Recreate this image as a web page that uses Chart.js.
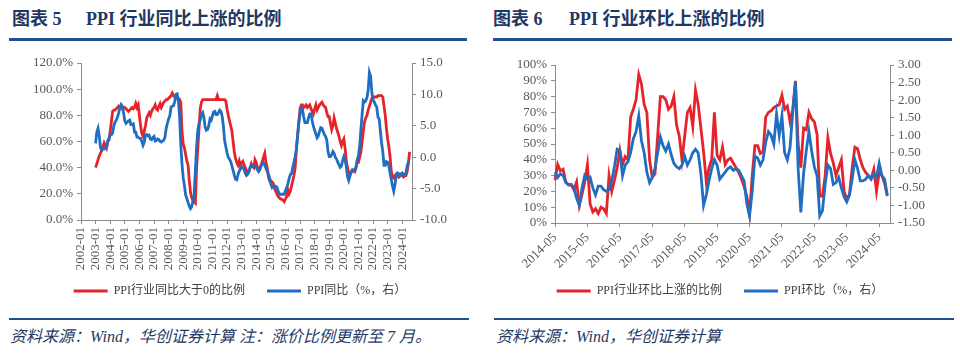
<!DOCTYPE html>
<html><head><meta charset="utf-8">
<script src="https://cdn.jsdelivr.net/npm/chart.js@4.4.1/dist/chart.umd.min.js"></script>
<style>
html,body{margin:0;padding:0;background:#fff;width:960px;height:355px;overflow:hidden;position:relative;}
.title{position:absolute;top:8px;font-size:18px;font-weight:bold;color:#1F3864;font-family:'Liberation Serif','Noto Sans CJK SC',serif;white-space:nowrap;line-height:22px;}
.rule{position:absolute;top:38px;height:3px;background:#24508F;}
.rule2{position:absolute;top:318px;height:2px;background:#24508F;}
.foot{position:absolute;top:327px;font-size:16px;font-style:italic;color:#1F3864;font-family:'Liberation Serif','Noto Sans CJK SC',serif;white-space:nowrap;line-height:20px;}
canvas{position:absolute;top:45px;}
</style></head>
<body>
<div class="title" style="left:12px">图表 5</div>
<div class="title" style="left:86px">PPI 行业同比上涨的比例</div>
<div class="title" style="left:493px">图表 6</div>
<div class="title" style="left:569px">PPI 行业环比上涨的比例</div>
<div class="rule" style="left:9px;width:458px"></div>
<div class="rule" style="left:493px;width:459px"></div>
<canvas id="c1" width="480" height="265" style="left:0px"></canvas>
<canvas id="c2" width="480" height="265" style="left:480px"></canvas>
<div class="rule2" style="left:9px;width:460px"></div>
<div class="rule2" style="left:494px;width:460px"></div>
<div class="foot" style="left:10px">资料来源：Wind，华创证券计算 注：涨价比例更新至 7 月。</div>
<div class="foot" style="left:496px">资料来源：Wind，华创证券计算</div>
<script>
// ---------- Chart 5 data (monthly, 2003-01 .. 2024-07) ----------
const yoyShare = [
  40,43,46,49,51,53,56,59,57,55,60,61,
  68,75,83,84,84,85,86,87,86,87,85,86,
  86,85,84,83,84,85,86,85,86,89,86,88,
  80,72,66,64,68,72,78,80,82,80,83,85,
  86,88,85,84,87,89,86,88,90,91,92,92,
  93,94,95,97,95,94,94,93,93,92,90,68,
  58,55,50,45,42,30,21,17,15,14,13,40,
  55,70,85,90,92,92,92,92,92,92,92,92,
  92,92,92,92,95,92,92,92,92,92,92,91,
  85,80,76,72,68,60,52,47,44,42,45,41,
  44,45,42,40,38,36,37,40,43,41,40,46,
  44,40,38,40,42,45,48,51,44,40,33,30,
  30,29,28,24,22,20,18,17,16,16,15,14,
  16,18,23,20,22,26,30,34,40,55,65,75,
  85,88,88,86,87,88,86,87,88,85,83,81,
  85,88,84,86,88,89,90,88,87,86,82,79,
  79,74,69,72,78,74,70,67,64,60,57,60,
  62,55,45,40,36,35,37,37,38,37,40,44,
  44,48,52,60,68,75,78,80,84,87,90,93,
  93,94,94,94,95,95,95,95,94,87,80,70,
  62,56,48,37,33,32,34,35,34,33,34,35,
  34,33,34,34,37,43,52
];
const ppiYoY = [
  2.2,4.0,4.6,3.4,1.6,1.1,1.4,1.3,1.4,1.7,2.6,3.0,
  3.5,3.6,3.9,5.0,5.6,5.9,6.4,7.1,7.9,8.4,8.1,7.1,
  5.8,5.4,5.6,5.8,5.9,5.2,5.2,5.3,4.0,4.0,3.2,3.2,
  3.0,3.0,2.5,1.9,2.4,3.5,3.6,3.4,3.5,2.9,2.8,3.1,
  3.3,2.6,2.7,2.9,2.8,2.5,2.4,2.6,2.7,3.2,4.6,5.4,
  6.1,6.6,8.0,8.1,8.2,8.8,10.0,10.1,9.1,6.6,2.0,-1.1,
  -3.3,-4.5,-6.0,-6.6,-7.2,-7.8,-8.2,-7.9,-7.0,-5.8,-2.1,1.7,
  4.3,5.4,5.9,6.8,7.1,6.4,4.8,4.3,4.4,5.0,6.1,5.9,
  6.6,7.2,7.3,6.8,6.8,7.1,7.5,7.3,6.5,5.0,2.7,1.7,
  0.7,0.0,-0.3,-0.7,-1.4,-2.1,-2.9,-3.5,-3.6,-2.8,-2.2,-1.9,
  -1.6,-1.6,-1.9,-2.6,-2.9,-2.7,-2.3,-1.6,-1.3,-1.5,-1.4,-1.4,
  -1.6,-2.0,-2.3,-2.0,-1.4,-1.1,-0.9,-1.2,-1.8,-2.2,-2.7,-3.3,
  -4.3,-4.8,-4.6,-4.6,-4.6,-4.8,-5.4,-5.9,-5.9,-5.9,-5.9,-5.9,
  -5.3,-4.9,-4.3,-3.4,-2.8,-2.6,-1.7,-0.8,0.1,1.2,3.3,5.5,
  6.9,7.8,7.6,6.4,5.5,5.5,5.5,6.3,6.9,6.9,5.8,4.9,
  4.3,3.7,3.1,3.4,4.1,4.7,4.6,4.1,3.6,3.3,2.7,0.9,
  0.1,0.1,0.4,0.9,0.6,0.0,-0.3,-0.8,-1.2,-1.6,-1.4,-0.5,
  0.1,-0.4,-1.5,-3.1,-3.7,-3.0,-2.4,-2.0,-2.1,-2.1,-1.5,-0.4,
  0.3,1.7,4.4,6.8,9.0,8.8,9.0,9.5,10.7,13.5,12.9,10.3,
  9.1,8.8,8.3,8.0,6.4,6.1,4.2,2.3,0.9,-1.3,-1.3,-0.7,
  -0.8,-1.4,-2.5,-3.6,-4.6,-5.4,-4.4,-3.0,-2.5,-2.6,-3.0,-2.7,
  -2.5,-2.7,-2.8,-2.5,-1.4,-0.8,-0.8
];
// ---------- Chart 6 data (monthly, 2014-05 .. 2024-08) ----------
const momShare = [
  27,37,33,34,26,24,24,21,26,11,
  18,26,37,12,7,9,6,10,9,6,
  30,20,27,35,46,37,42,40,67,72,
  78,94,88,75,70,40,29,31,55,80,
  80,78,72,74,80,62,55,40,55,70,
  73,61,84,75,60,45,26,35,40,70,
  43,40,48,37,40,41,38,35,32,28,
  23,17,6,30,49,49,44,45,67,70,
  71,73,74,75,81,72,74,64,72,90,
  50,35,60,59,70,66,64,56,17,17,
  30,54,44,38,30,35,40,20,15,18,
  35,48,47,40,35,32,30,28,34,20,
  32,30,25,17
];
const ppiMoM = [
  -0.05,-0.2,-0.1,-0.15,-0.35,-0.4,-0.4,-0.5,-0.8,-1.0,
  -0.5,-0.15,-0.25,-0.2,-0.5,-0.7,-0.45,-0.45,-0.55,-0.6,
  -0.55,-0.3,0.1,0.6,0.55,-0.15,0.15,0.25,0.5,0.9,
  1.1,1.55,0.85,0.5,-0.05,-0.35,-0.2,0.05,0.5,0.95,
  0.7,0.55,0.75,0.45,0.2,0.1,0.05,0.15,0.4,0.15,
  0.3,0.5,0.6,0.5,-0.1,-1.0,-0.7,-0.3,0.05,0.3,
  0.15,-0.25,-0.15,-0.05,0.05,0.1,0.0,0.05,0.0,-0.15,
  -0.3,-0.95,-1.3,-0.6,0.4,0.35,0.15,0.3,0.8,1.1,
  1.0,0.75,1.6,1.0,1.55,0.5,0.3,0.65,1.65,2.5,
  0.05,-1.2,-0.1,0.55,1.1,0.55,0.1,-0.15,-1.3,-1.15,
  -0.4,0.15,0.05,-0.4,-0.35,-0.2,-0.5,-0.75,-0.9,-0.7,
  -0.25,0.3,0.05,-0.3,-0.3,-0.25,-0.15,-0.25,-0.1,-0.2,
  0.2,-0.15,-0.25,-0.7
];
const yoyLegend = ['PPI行业同比大于0的比例', 'PPI同比（%，右）'];
const momLegend = ['PPI行业环比上涨的比例', 'PPI环比（%，右）'];

function makeCats(y0, m0, y1, m1) {
  const out = []; let y = y0, m = m0;
  while (y < y1 || (y === y1 && m <= m1)) {
    out.push(y + '-' + String(m).padStart(2, '0'));
    m++; if (m > 12) { m = 1; y++; }
  }
  return out;
}
const yoyCats = makeCats(2002, 1, 2024, 9);
const momCats = makeCats(2014, 5, 2024, 9);
const yoyLead = yoyCats.indexOf('2003-01');

const RED = '#E5232B', BLUE = '#1F6EC1', AX = '#8c8c8c';
const FONT = "'Liberation Serif','Noto Sans CJK SC',serif";
Chart.defaults.font.family = FONT;
Chart.defaults.color = '#595959';

function lineDs(label, data, axis, color, order) {
  return { label, data, yAxisID: axis, borderColor: color, backgroundColor: color,
    borderWidth: 2.8, pointRadius: 0, tension: 0, order, spanGaps: false };
}
function legendOpts() {
  return { position: 'bottom', labels: { usePointStyle: true, pointStyle: 'line', pointStyleWidth: 34,
    padding: 10, color: '#404040', font: { size: 12 },
    sort: (a, b) => a.datasetIndex - b.datasetIndex,
    generateLabels: chart => {
      const items = Chart.defaults.plugins.legend.labels.generateLabels(chart);
      items.forEach(it => { if (it.datasetIndex === 0) it.text = it.text + '\u3000'; });
      return items;
    } } };
}
function xAxis(suffix, rot, h) {
  return {
    type: 'category', offset: false,
    grid: { drawOnChartArea: false, tickLength: 4,
      color: c => (c.tick && c.tick.label != null) ? AX : 'rgba(0,0,0,0)' },
    border: { display: true, color: AX },
    ticks: { autoSkip: false, minRotation: rot, maxRotation: rot, padding: 3, font: { size: 13 },
      callback: function (v) { const l = this.getLabelForValue(v); return l.endsWith(suffix) ? l : null; } },
    afterFit: s => { s.height = h; }
  };
}
function yAxis(pos, min, max, step, fmt, w) {
  return {
    position: pos, min, max,
    ticks: { stepSize: step, autoSkip: false, maxTicksLimit: 20, padding: 4, font: { size: 13 }, callback: fmt },
    grid: { drawOnChartArea: false, tickLength: 4, color: AX },
    border: { display: true, color: AX },
    afterFit: s => { s.width = w; }
  };
}

const pad = n => Array(n).fill(null);

new Chart(document.getElementById('c1'), {
  type: 'line',
  data: { labels: yoyCats, datasets: [
    lineDs(yoyLegend[0], pad(yoyLead).concat(yoyShare), 'yL', RED, 1),
    lineDs(yoyLegend[1], pad(yoyLead).concat(ppiYoY), 'yR', BLUE, 0)
  ]},
  options: {
    responsive: false, animation: false, events: [],
    layout: { padding: { top: 18, bottom: 3, left: 0, right: 0 } },
    plugins: { legend: legendOpts(), tooltip: { enabled: false } },
    scales: {
      x: xAxis('-01', 90, 55),
      yL: yAxis('left', 0, 120, 20, v => v.toFixed(1) + '%', 81),
      yR: yAxis('right', -10, 15, 5, v => v.toFixed(1), 68)
    }
  }
});

new Chart(document.getElementById('c2'), {
  type: 'line',
  data: { labels: momCats, datasets: [
    lineDs(momLegend[0], momShare, 'yL', RED, 1),
    lineDs(momLegend[1], ppiMoM, 'yR', BLUE, 0)
  ]},
  options: {
    responsive: false, animation: false, events: [],
    layout: { padding: { top: 20, bottom: 3, left: 0, right: 0 } },
    plugins: { legend: legendOpts(), tooltip: { enabled: false } },
    scales: {
      x: xAxis('-05', 45, 52),
      yL: yAxis('left', 0, 100, 10, v => v + '%', 75),
      yR: yAxis('right', -1.5, 3, 0.5, v => v.toFixed(2), 70)
    }
  }
});
</script>
</body></html>
